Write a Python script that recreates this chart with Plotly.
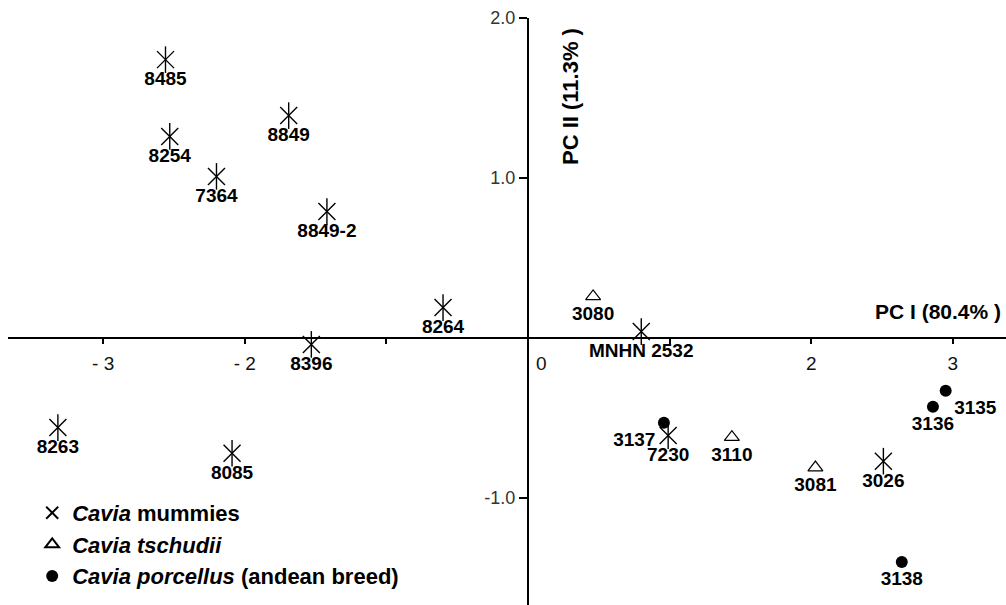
import plotly.graph_objects as go

# ---------------- data ----------------
mummy_labels = ["8485", "8254", "7364", "8849", "8849-2", "8264", "8396",
                "8263", "8085", "MNHN 2532", "7230", "3026"]
mummy_pc1 = [-2.56, -2.53, -2.20, -1.69, -1.42, -0.60, -1.53, -3.32, -2.09, 0.80, 0.99, 2.51]
mummy_pc2 = [1.74, 1.26, 1.01, 1.39, 0.79, 0.19, -0.04, -0.56, -0.72, 0.04, -0.61, -0.77]

tschudii_labels = ["3080", "3110", "3081"]
tschudii_pc1 = [0.46, 1.44, 2.03]
tschudii_pc2 = [0.26, -0.62, -0.81]

porcellus_labels = ["3137", "3135", "3136", "3138"]
porcellus_pc1 = [0.96, 2.95, 2.86, 2.64]
porcellus_pc2 = [-0.53, -0.33, -0.43, -1.40]

x_tickvals = [-3, -2, -1, 1, 2, 3]
x_ticktext = ["- 3", "- 2", "", "", "2", "3"]
y_tickvals = [2, 1, -1]
y_ticktext = ["2.0", "1.0", "-1.0"]

x_title = "PC I (80.4% )"
y_title = "PC II (11.3% )"

# ---------------- styling ----------------
FONT = "Liberation Sans"
label_font = dict(family=FONT, size=19, color="black", weight="bold")
special_pos = {"3137": "bottom left", "3135": "bottom right"}


def positions(labels):
    return [special_pos.get(l, "bottom center") for l in labels]


x_range = [-3.672, 3.376]
y_range = [-1.669, 2.0]
x_domain = [0.008, 1.0]
y_domain = [0.0, 0.9702]

x_pos = y_domain[0] + (0 - y_range[0]) / (y_range[1] - y_range[0]) * (y_domain[1] - y_domain[0])
y_pos = x_domain[0] + (0 - x_range[0]) / (x_range[1] - x_range[0]) * (x_domain[1] - x_domain[0])

fig = go.Figure()

fig.add_trace(go.Scatter(
    x=mummy_pc1, y=mummy_pc2, mode="markers+text", text=mummy_labels,
    textposition=positions(mummy_labels), textfont=label_font,
    marker=dict(symbol="x-thin-open", size=17, color="black", line=dict(width=1.4, color="black")),
    name="<i>Cavia</i> mummies", legendgroup="m",
))
fig.add_trace(go.Scatter(
    x=mummy_pc1, y=mummy_pc2, mode="markers",
    marker=dict(symbol="line-ns-open", size=19, color="black", line=dict(width=1.4, color="black")),
    showlegend=False, legendgroup="m", hoverinfo="skip",
))
fig.add_trace(go.Scatter(
    x=tschudii_pc1, y=tschudii_pc2, mode="markers+text", text=tschudii_labels,
    textposition=positions(tschudii_labels), textfont=label_font,
    marker=dict(symbol="triangle-up-open", size=13, color="black", line=dict(width=1.2, color="black")),
    name="<i>Cavia tschudii</i>",
))
fig.add_trace(go.Scatter(
    x=porcellus_pc1, y=porcellus_pc2, mode="markers+text", text=porcellus_labels,
    textposition=positions(porcellus_labels), textfont=label_font,
    marker=dict(symbol="circle", size=12, color="black"),
    name="<i>Cavia porcellus</i> (andean breed)",
))

fig.update_layout(
    width=1006, height=605,
    margin=dict(l=0, r=0, t=0, b=0, autoexpand=False),
    paper_bgcolor="white", plot_bgcolor="white",
    font=dict(family=FONT, color="black"),
    showlegend=True,
    legend=dict(x=0.032, xanchor="left", y=0.0134, yanchor="bottom",
                font=dict(family=FONT, size=22, color="black", weight="bold"),
                bgcolor="rgba(0,0,0,0)", tracegroupgap=0, itemsizing="constant"),
    xaxis=dict(range=x_range, domain=x_domain, anchor="free", position=x_pos,
               showline=True, linecolor="black", linewidth=2,
               showgrid=False, zeroline=False, automargin=False,
               tickmode="array", tickvals=x_tickvals, ticktext=x_ticktext,
               ticks="outside", ticklen=5, tickwidth=1.5, tickcolor="black",
               ticklabelstandoff=3,
               tickfont=dict(family=FONT, size=19, color="#111")),
    yaxis=dict(range=y_range, domain=y_domain, anchor="free", position=y_pos,
               showline=True, linecolor="black", linewidth=2,
               showgrid=False, zeroline=False, automargin=False,
               tickmode="array", tickvals=y_tickvals, ticktext=y_ticktext,
               ticks="outside", ticklen=8, tickwidth=1.5, tickcolor="black",
               tickfont=dict(family=FONT, size=18, color="#333")),
)

fig.add_annotation(x=0, y=0, xref="x", yref="y", text="0", showarrow=False,
                   xanchor="left", yanchor="top", xshift=6, yshift=-13,
                   font=dict(family=FONT, size=19, color="#111"))
fig.add_annotation(x=1003 / 1006, y=1 - 311 / 605, xref="paper", yref="paper",
                   text=x_title, showarrow=False, xanchor="right", yanchor="middle",
                   font=dict(family=FONT, size=21, color="black", weight="bold"))
fig.add_annotation(x=570 / 1006, y=1 - 97 / 605, xref="paper", yref="paper",
                   text=y_title, showarrow=False, textangle=-90,
                   xanchor="center", yanchor="middle",
                   font=dict(family=FONT, size=22, color="black", weight="bold"))

fig.write_html("out.html", config={"displayModeBar": False},
               post_script="document.body.style.margin='0px';document.body.style.overflow='hidden';")
